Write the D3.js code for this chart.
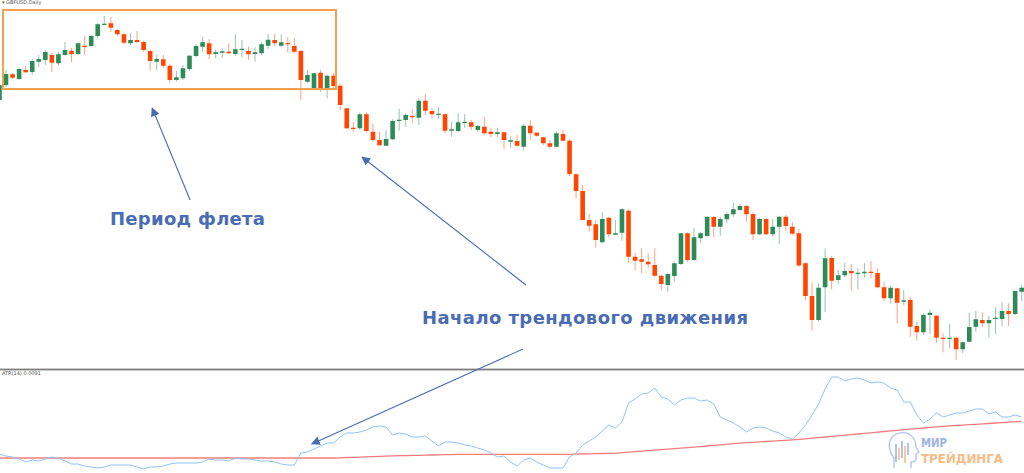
<!DOCTYPE html>
<html><head><meta charset="utf-8">
<script src="https://cdn.jsdelivr.net/npm/d3@7"></script>
<style>html,body{margin:0;padding:0;background:#fff;overflow:hidden}</style>
</head><body><svg id="c" width="1024" height="473"></svg>
<script>
// ---- GBPUSD, Daily: OHLC per candle ----
const open = [
1.3200,1.3260,1.3303,1.3284,1.3320,1.3312,1.3353,1.3360,1.3380,1.3347,
1.3380,1.3397,1.3384,1.3417,1.3416,1.3456,1.3503,1.3507,1.3480,1.3463,
1.3427,1.3440,1.3432,1.3396,1.3353,1.3363,1.3337,1.3280,1.3287,1.3324,
1.3376,1.3413,1.3427,1.3384,1.3389,1.3393,1.3384,1.3401,1.3396,1.3384,
1.3387,1.3417,1.3440,1.3417,1.3428,1.3416,1.3396,1.3273,1.3247,1.3309,
1.3240,1.3297,1.3257,1.3167,1.3089,1.3087,1.3143,1.3073,1.3040,1.3017,
1.3043,1.3117,1.3120,1.3136,1.3129,1.3197,1.3156,1.3141,1.3143,1.3077,
1.3076,1.3108,1.3111,1.3080,1.3093,1.3073,1.3064,1.3071,1.3033,1.3036,
1.3013,1.3097,1.3069,1.3051,1.3027,1.3013,1.3064,1.3037,1.2903,1.2836,
1.2720,1.2703,1.2631,1.2729,1.2661,1.2669,1.2757,1.2573,1.2563,1.2553,
1.2540,1.2497,1.2460,1.2496,1.2544,1.2667,1.2560,1.2647,1.2656,1.2732,
1.2693,1.2723,1.2743,1.2760,1.2776,1.2744,1.2663,1.2724,1.2663,1.2693,
1.2733,1.2693,1.2667,1.2547,1.2416,1.2320,1.2451,1.2568,1.2480,1.2499,
1.2516,1.2505,1.2507,1.2513,1.2508,1.2451,1.2407,1.2447,1.2393,1.2400,
1.2296,1.2271,1.2340,1.2337,1.2249,1.2245,1.2249,1.2203,1.2233,1.2293,
1.2320,1.2307,1.2325,1.2324,1.2356,1.2344,1.2433];
const high = [
1.3264,1.3320,1.3308,1.3328,1.3336,1.3364,1.3380,1.3400,1.3388,1.3392,
1.3432,1.3408,1.3431,1.3456,1.3460,1.3509,1.3536,1.3533,1.3484,1.3467,
1.3468,1.3476,1.3437,1.3400,1.3380,1.3380,1.3344,1.3316,1.3340,1.3380,
1.3423,1.3453,1.3444,1.3400,1.3407,1.3427,1.3464,1.3440,1.3413,1.3411,
1.3431,1.3463,1.3464,1.3463,1.3451,1.3447,1.3400,1.3320,1.3308,1.3320,
1.3299,1.3309,1.3264,1.3169,1.3113,1.3149,1.3151,1.3107,1.3073,1.3080,
1.3123,1.3164,1.3147,1.3163,1.3207,1.3224,1.3167,1.3171,1.3147,1.3113,
1.3147,1.3143,1.3120,1.3100,1.3133,1.3087,1.3089,1.3073,1.3056,1.3060,
1.3103,1.3120,1.3073,1.3053,1.3040,1.3073,1.3080,1.3043,1.2907,1.2860,
1.2744,1.2720,1.2751,1.2733,1.2720,1.2767,1.2763,1.2589,1.2607,1.2587,
1.2607,1.2500,1.2507,1.2553,1.2668,1.2671,1.2689,1.2673,1.2736,1.2736,
1.2733,1.2751,1.2789,1.2783,1.2780,1.2749,1.2727,1.2729,1.2723,1.2737,
1.2740,1.2712,1.2684,1.2551,1.2469,1.2467,1.2607,1.2576,1.2520,1.2549,
1.2544,1.2528,1.2547,1.2556,1.2527,1.2473,1.2456,1.2449,1.2440,1.2413,
1.2313,1.2347,1.2364,1.2340,1.2267,1.2303,1.2253,1.2233,1.2349,1.2356,
1.2351,1.2336,1.2371,1.2393,1.2387,1.2437,1.2460];
const low = [
1.3192,1.3252,1.3284,1.3280,1.3308,1.3300,1.3332,1.3340,1.3312,1.3340,
1.3378,1.3352,1.3380,1.3380,1.3413,1.3447,1.3500,1.3471,1.3457,1.3423,
1.3420,1.3428,1.3393,1.3317,1.3320,1.3328,1.3267,1.3273,1.3280,1.3316,
1.3371,1.3393,1.3364,1.3367,1.3369,1.3384,1.3376,1.3373,1.3360,1.3353,
1.3380,1.3404,1.3416,1.3413,1.3391,1.3387,1.3200,1.3267,1.3243,1.3233,
1.3207,1.3243,1.3160,1.3083,1.3071,1.3080,1.3071,1.3033,1.3017,1.3016,
1.3040,1.3077,1.3093,1.3107,1.3100,1.3140,1.3127,1.3127,1.3067,1.3053,
1.3071,1.3089,1.3080,1.3073,1.3060,1.3051,1.3053,1.3004,1.3009,1.3013,
1.2997,1.3040,1.3053,1.3020,1.3007,1.3011,1.3033,1.2896,1.2807,1.2717,
1.2673,1.2609,1.2629,1.2651,1.2660,1.2637,1.2549,1.2517,1.2507,1.2527,
1.2493,1.2440,1.2433,1.2473,1.2540,1.2553,1.2557,1.2627,1.2653,1.2651,
1.2657,1.2707,1.2733,1.2756,1.2713,1.2640,1.2660,1.2660,1.2653,1.2623,
1.2676,1.2660,1.2533,1.2398,1.2277,1.2316,1.2351,1.2443,1.2463,1.2491,
1.2437,1.2443,1.2489,1.2489,1.2447,1.2396,1.2387,1.2307,1.2380,1.2253,
1.2237,1.2260,1.2264,1.2229,1.2191,1.2207,1.2160,1.2187,1.2231,1.2273,
1.2293,1.2249,1.2264,1.2296,1.2297,1.2340,1.2396];
const close = [
1.3260,1.3304,1.3289,1.3324,1.3311,1.3356,1.3364,1.3392,1.3349,1.3383,
1.3400,1.3384,1.3427,1.3415,1.3456,1.3503,1.3505,1.3489,1.3463,1.3429,
1.3440,1.3432,1.3400,1.3356,1.3364,1.3337,1.3280,1.3291,1.3327,1.3377,
1.3416,1.3431,1.3383,1.3391,1.3395,1.3387,1.3403,1.3405,1.3383,1.3391,
1.3423,1.3441,1.3427,1.3431,1.3423,1.3393,1.3280,1.3300,1.3307,1.3243,
1.3297,1.3256,1.3180,1.3087,1.3084,1.3143,1.3076,1.3040,1.3019,1.3044,
1.3116,1.3121,1.3140,1.3131,1.3197,1.3157,1.3143,1.3145,1.3077,1.3083,
1.3111,1.3113,1.3093,1.3096,1.3067,1.3064,1.3071,1.3040,1.3039,1.3017,
1.3097,1.3067,1.3057,1.3027,1.3013,1.3067,1.3037,1.2904,1.2836,1.2720,
1.2697,1.2640,1.2724,1.2663,1.2667,1.2763,1.2573,1.2557,1.2553,1.2543,
1.2497,1.2464,1.2504,1.2547,1.2667,1.2560,1.2651,1.2667,1.2732,1.2693,
1.2724,1.2744,1.2763,1.2776,1.2743,1.2663,1.2724,1.2663,1.2693,1.2733,
1.2696,1.2665,1.2538,1.2416,1.2320,1.2449,1.2567,1.2477,1.2499,1.2516,
1.2507,1.2509,1.2513,1.2508,1.2451,1.2407,1.2449,1.2389,1.2399,1.2293,
1.2271,1.2340,1.2349,1.2249,1.2245,1.2249,1.2203,1.2231,1.2292,1.2323,
1.2307,1.2320,1.2329,1.2356,1.2344,1.2436,1.2449];

// ---- ATR(14) and its moving average ----
const atr = [
0.0054,0.0052,0.0051,0.0049,0.0046,0.0048,0.0047,0.0049,0.0051,0.0050,
0.0047,0.0044,0.0044,0.0042,0.0041,0.0040,0.0041,0.0043,0.0043,0.0043,
0.0043,0.0041,0.0039,0.0041,0.0041,0.0042,0.0044,0.0045,0.0045,0.0045,
0.0045,0.0046,0.0049,0.0048,0.0048,0.0047,0.0050,0.0049,0.0049,0.0048,
0.0047,0.0047,0.0046,0.0044,0.0043,0.0043,0.0055,0.0056,0.0059,0.0062,
0.0065,0.0065,0.0071,0.0075,0.0075,0.0076,0.0078,0.0081,0.0082,0.0081,
0.0073,0.0075,0.0074,0.0071,0.0071,0.0072,0.0067,0.0062,0.0066,0.0066,
0.0065,0.0063,0.0062,0.0060,0.0058,0.0055,0.0051,0.0052,0.0046,0.0042,
0.0048,0.0050,0.0046,0.0043,0.0040,0.0040,0.0040,0.0051,0.0055,0.0063,
0.0067,0.0071,0.0077,0.0083,0.0080,0.0086,0.0105,0.0109,0.0114,0.0115,
0.0120,0.0111,0.0109,0.0103,0.0108,0.0110,0.0110,0.0107,0.0108,0.0104,
0.0091,0.0088,0.0085,0.0081,0.0076,0.0080,0.0081,0.0080,0.0077,0.0075,
0.0071,0.0069,0.0075,0.0083,0.0093,0.0104,0.0119,0.0131,0.0131,0.0127,
0.0129,0.0130,0.0128,0.0125,0.0126,0.0125,0.0120,0.0118,0.0106,0.0106,
0.0093,0.0085,0.0089,0.0095,0.0091,0.0093,0.0095,0.0095,0.0097,0.0099,
0.0099,0.0094,0.0096,0.0091,0.0091,0.0093,0.0091];
const atrMa = [
0.00500,0.00500,0.00500,0.00500,0.00500,0.00500,0.00500,0.00500,0.00500,0.00500,
0.00500,0.00500,0.00500,0.00500,0.00500,0.00500,0.00500,0.00500,0.00500,0.00500,
0.00500,0.00500,0.00500,0.00500,0.00500,0.00500,0.00500,0.00500,0.00500,0.00500,
0.00500,0.00500,0.00500,0.00500,0.00500,0.00500,0.00500,0.00500,0.00500,0.00500,
0.00500,0.00500,0.00500,0.00500,0.00500,0.00500,0.00500,0.00500,0.00500,0.00500,
0.00500,0.00500,0.00502,0.00505,0.00507,0.00509,0.00512,0.00514,0.00517,0.00519,
0.00521,0.00523,0.00524,0.00526,0.00527,0.00528,0.00530,0.00531,0.00533,0.00534,
0.00536,0.00537,0.00536,0.00536,0.00536,0.00536,0.00536,0.00536,0.00536,0.00536,
0.00536,0.00536,0.00536,0.00536,0.00536,0.00536,0.00536,0.00537,0.00538,0.00540,
0.00542,0.00543,0.00545,0.00546,0.00547,0.00554,0.00558,0.00563,0.00568,0.00573,
0.00578,0.00583,0.00588,0.00593,0.00598,0.00603,0.00609,0.00614,0.00620,0.00626,
0.00632,0.00637,0.00643,0.00649,0.00653,0.00657,0.00661,0.00665,0.00669,0.00673,
0.00677,0.00681,0.00686,0.00692,0.00698,0.00704,0.00710,0.00716,0.00722,0.00728,
0.00734,0.00740,0.00746,0.00752,0.00759,0.00765,0.00771,0.00777,0.00783,0.00788,
0.00794,0.00800,0.00806,0.00812,0.00817,0.00821,0.00825,0.00829,0.00833,0.00837,
0.00841,0.00845,0.00850,0.00854,0.00858,0.00862,0.00866];

// ---- labels / annotations (anchored in data space) ----
const symbolLabel = "\u25BE GBPUSD,Daily";
const atrLabel = "ATR(14) 0.0091";
const flatLabel = "Период флета";
const trendLabel = "Начало трендового движения";
const flatBox = {i0: 0.54, i1: 51.36, p0: 1.3560, p1: 1.3244};
const logoWords = ["МИР", "ТРЕЙДИНГА"];

const GREEN = "#2e8b57", RED = "#ff4500", BLUE_TXT = "#4a6cb5";
const svg = d3.select("#c");
svg.append("rect").attr("width",1024).attr("height",473).attr("fill","#fff");

const x = d3.scaleLinear().domain([0, open.length - 1]).range([-0.55, 1021.7]);
const y = d3.scaleLinear().domain([1.2160, 1.3600]).range([360, 0]);
const ya = d3.scaleLinear().domain([0.0035, 0.0138]).range([473, 370]);

const defs = svg.append("defs");
defs.append("clipPath").attr("id","mainClip").append("rect").attr("x",0).attr("y",0).attr("width",1024).attr("height",368.5);
defs.append("clipPath").attr("id","atrClip").append("rect").attr("x",0).attr("y",370.5).attr("width",1024).attr("height",103);
defs.append("marker").attr("id","arr").attr("viewBox","0 0 10 10").attr("refX",9).attr("refY",5)
  .attr("markerWidth",9).attr("markerHeight",9).attr("markerUnits","userSpaceOnUse").attr("orient","auto")
  .append("path").attr("d","M0,0 L10,5 L0,10 z").attr("fill",BLUE_TXT);

const candles = open.map((o,i)=>({i, o, h: high[i], l: low[i], c: close[i]}));
const gMain = svg.append("g").attr("clip-path","url(#mainClip)");
const bw = 4.6;
gMain.selectAll("line.wick").data(candles).join("line").attr("class","wick")
  .attr("x1",d=>x(d.i)).attr("x2",d=>x(d.i))
  .attr("y1",d=>y(d.h)).attr("y2",d=>y(d.l))
  .attr("stroke",d=>d.c>=d.o?GREEN:RED).attr("stroke-opacity",0.5).attr("stroke-width",1);
gMain.selectAll("rect.body").data(candles).join("rect").attr("class","body")
  .attr("x",d=>x(d.i)-bw/2).attr("width",bw)
  .attr("y",d=>y(Math.max(d.o,d.c)))
  .attr("height",d=>Math.max(1.2, Math.abs(y(d.o)-y(d.c))))
  .attr("fill",d=>d.c>=d.o?GREEN:RED);

// flat period box
svg.append("rect")
  .attr("x",x(flatBox.i0)).attr("y",y(flatBox.p0))
  .attr("width",x(flatBox.i1)-x(flatBox.i0)).attr("height",y(flatBox.p1)-y(flatBox.p0))
  .attr("fill","none").attr("stroke","#f6a04d").attr("stroke-width",2);

// separator between panes
svg.append("rect").attr("x",0).attr("y",368.6).attr("width",1024).attr("height",1.8).attr("fill","#7d7d7d");

// ATR pane
const gAtr = svg.append("g").attr("clip-path","url(#atrClip)");
const line = d3.line().x((d,i)=>x(i)).y(d=>ya(d));
gAtr.append("path").datum(atrMa).attr("d",line).attr("fill","none").attr("stroke","#f27c7c").attr("stroke-width",1.3);
gAtr.append("path").datum(atr).attr("d",line).attr("fill","none").attr("stroke","#8cc4f7").attr("stroke-width",1);

// small labels
svg.append("text").attr("x",2).attr("y",4).attr("font-family","DejaVu Sans, sans-serif").attr("font-size",5).attr("fill","#555").text(symbolLabel);
svg.append("text").attr("x",2).attr("y",375).attr("font-family","DejaVu Sans, sans-serif").attr("font-size",5).attr("fill","#555").text(atrLabel);

// annotation texts
function bigText(txt, xi, py, w){
  const t = svg.append("text").attr("x",x(xi)).attr("y",y(py))
    .attr("font-family","DejaVu Sans, sans-serif").attr("font-weight","bold")
    .attr("font-size",18).attr("fill",BLUE_TXT).text(txt);
  t.attr("textLength",w).attr("lengthAdjust","spacing");
  return t;
}
bigText(flatLabel, 16.87, 1.2700, 155);
bigText(trendLabel, 64.48, 1.2304, 326);

// arrows
const arrows = [
  {from:[29.1, 1.2800], to:[23.3, 1.3168], pane:"main"},
  {from:[80.35, 1.2460], to:[55.33, 1.2972], pane:"main"},
  {from:[79.9, 1.2204], to:[47.65, 0.0064], pane:"atr"}
];
arrows.forEach(a=>{
  svg.append("line")
    .attr("x1",x(a.from[0])).attr("y1",y(a.from[1]))
    .attr("x2",x(a.to[0])).attr("y2",a.pane==="atr"?ya(a.to[1]):y(a.to[1]))
    .attr("stroke",BLUE_TXT).attr("stroke-width",1.1).attr("marker-end","url(#arr)");
});

// watermark logo
const wm = svg.append("g").attr("opacity",0.85);
wm.append("path")
  .attr("d","M894,468 L894,458 C889,452 888,444 891,439 C894,433 903,431 909,434 C914,437 916,442 916,447 L919,452 L916,454 L916,459 C916,462 913,462 911,462 L911,468")
  .attr("fill","none").attr("stroke","#a9bfe9").attr("stroke-width",1.4);
const logoBars = [[896,444,462,"#8fa8dc"],[899,448,460,"#f4b070"],[902,441,458,"#8fa8dc"],[905,446,463,"#f4b070"],[908,443,455,"#8fa8dc"]];
wm.selectAll("line.lb").data(logoBars).join("line").attr("class","lb")
  .attr("x1",d=>d[0]).attr("x2",d=>d[0]).attr("y1",d=>d[1]).attr("y2",d=>d[2])
  .attr("stroke",d=>d[3]).attr("stroke-width",1.6);
wm.append("text").attr("x",921).attr("y",447).attr("font-family","DejaVu Sans, sans-serif").attr("font-weight","bold")
  .attr("font-size",12.5).attr("fill","#8ea6da").attr("textLength",26).attr("lengthAdjust","spacingAndGlyphs").text(logoWords[0]);
wm.append("text").attr("x",921).attr("y",462.5).attr("font-family","DejaVu Sans, sans-serif").attr("font-weight","bold")
  .attr("font-size",12.5).attr("fill","#f6b070").attr("textLength",82).attr("lengthAdjust","spacingAndGlyphs").text(logoWords[1]);
</script>
</body></html>
